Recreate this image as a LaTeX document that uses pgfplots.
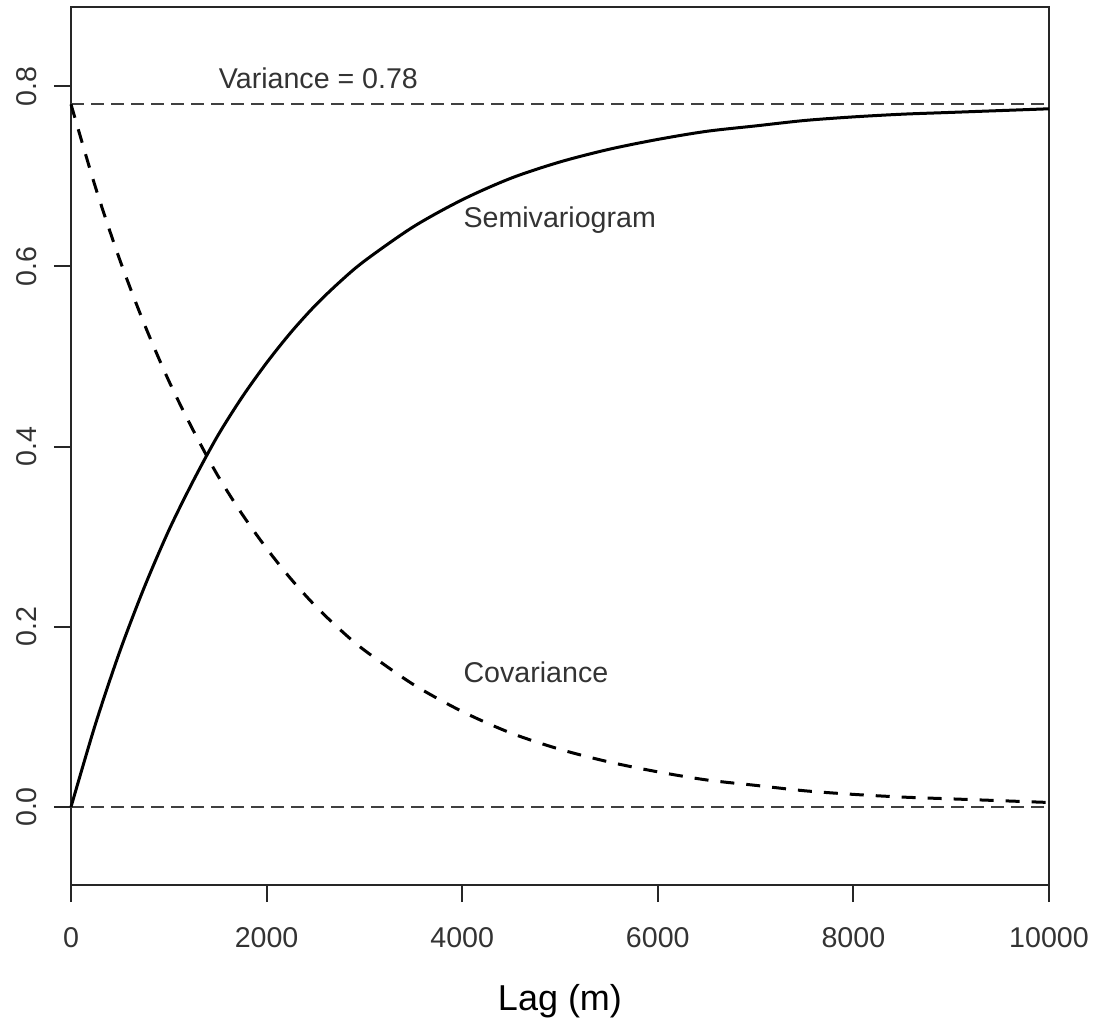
\documentclass[border=0pt]{standalone}
\usepackage{fontspec}
\setmainfont{Liberation Sans}
\usepackage{pgfplots}
\pgfplotsset{compat=1.18}

% exponential model, sill 0.78
\begin{document}
\begin{tikzpicture}
\path[use as bounding box] (-35.5bp,-68.5bp) rectangle (511bp,442.5bp);
\begin{axis}[
    scale only axis,
    width=489bp, height=439bp,
    xmin=0, xmax=10000,
    ymin=-0.0866, ymax=0.888,
    scaled x ticks=false,
    axis line style={black!85, line width=1bp},
    tick style={black!85, line width=1bp},
    tick pos=left,
    tick align=outside,
    major tick length=8.5bp,
    xtick={0,2000,4000,6000,8000,10000},
    xticklabels={0,2000,4000,6000,8000,10000},
    ytick={0,0.2,0.4,0.6,0.8},
    yticklabels={0.0,0.2,0.4,0.6,0.8},
    font=\fontsize{14.3bp}{17bp}\selectfont,
    xticklabel style={inner sep=0pt, anchor=north, black!80},
    yticklabel style={rotate=90, anchor=south, inner sep=0pt, black!80},
    xticklabel shift=12.5bp,
    yticklabel shift=8.5bp,
    xlabel={Lag (m)},
    xlabel style={at={(axis description cs:0.5,0)}, anchor=center, yshift=-58bp,
        font=\fontsize{18bp}{21bp}\selectfont},
    clip=false,
]
% reference lines at 0 and at the variance
\addplot[black!75, line width=1bp, dash pattern=on 6.5bp off 3.5bp] coordinates {(0,0) (10000,0)};
\addplot[black!75, line width=1bp, dash pattern=on 6.5bp off 3.5bp] coordinates {(0,0.78) (10000,0.78)};

% semivariogram
\addplot[black, line width=1.5bp, smooth] coordinates {
    (0,0) (250,0.092) (500,0.173) (750,0.244) (1000,0.307) (1250,0.362)
    (1500,0.412) (1750,0.455) (2000,0.493) (2250,0.527) (2500,0.557)
    (2750,0.583) (3000,0.606) (3500,0.644) (4000,0.674) (4500,0.698)
    (5000,0.716) (5500,0.730) (6000,0.741) (6500,0.750) (7000,0.756)
    (7500,0.762) (8000,0.766) (8500,0.769) (9000,0.771) (9500,0.773)
    (10000,0.775)
};

% covariance
\addplot[black, line width=1.5bp, smooth, dash pattern=on 7bp off 6bp] coordinates {
    (0,0.780) (250,0.688) (500,0.607) (750,0.536) (1000,0.473) (1250,0.418)
    (1500,0.368) (1750,0.325) (2000,0.287) (2250,0.253) (2500,0.223)
    (2750,0.197) (3000,0.174) (3500,0.136) (4000,0.106) (4500,0.082)
    (5000,0.064) (5500,0.050) (6000,0.039) (6500,0.030) (7000,0.024)
    (7500,0.018) (8000,0.014) (8500,0.011) (9000,0.009) (9500,0.007)
    (10000,0.005)
};

\node[black!80] at (axis cs:2530,0.809) {Variance = 0.78};
\node[black!80, anchor=west, inner sep=0pt] at (axis cs:4010,0.651) {Semivariogram};
\node[black!80, anchor=west, inner sep=0pt] at (axis cs:4010,0.149) {Covariance};
\end{axis}
\end{tikzpicture}
\end{document}
